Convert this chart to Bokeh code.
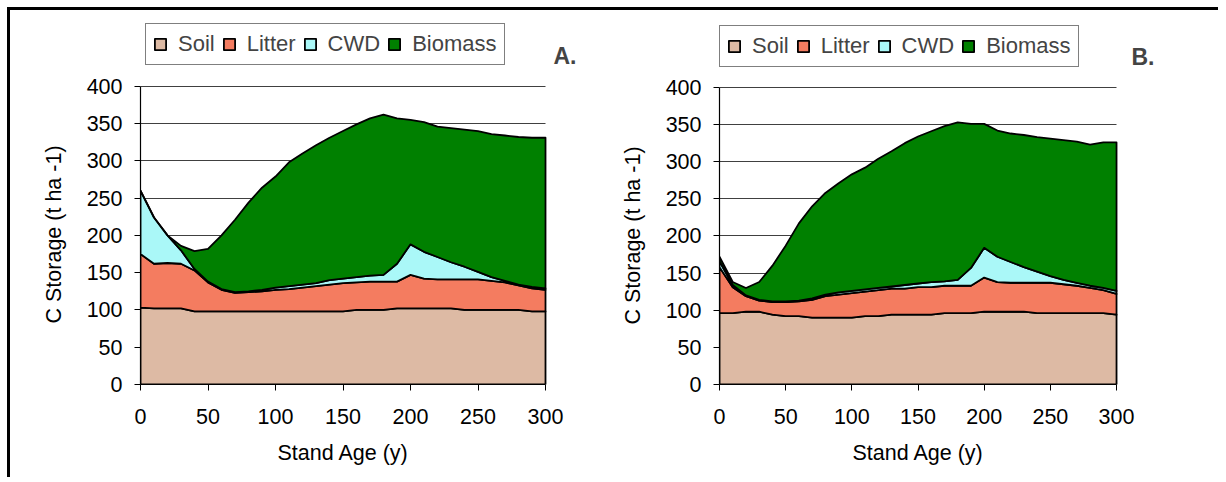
from bokeh.plotting import figure
from bokeh.models import Range1d, FixedTicker, Legend, LegendItem, Label, Title
from bokeh.layouts import row
from bokeh.embed import file_html
from bokeh.resources import INLINE
import numpy as np

# ---------------- data ----------------
age = list(range(0, 301, 10))

layers = ["Soil", "Litter", "CWD", "Biomass"]

soil_a = [103, 102, 102, 102, 98, 98, 98, 98, 98, 98, 98, 98, 98, 98, 98, 98,
          100, 100, 100, 102, 102, 102, 102, 102, 100, 100, 100, 100, 100, 98, 98]
litter_a = [72, 60, 61, 60, 55, 39, 29, 25, 26, 27, 29, 30, 32, 34, 36, 38,
            37, 38, 38, 36, 45, 40, 39, 39, 41, 41, 39, 37, 33, 31, 29]
cwd_a = [85, 62, 37, 18, 2, 1, 1, 1, 1, 2, 3, 4, 4, 4, 6, 6,
         7, 8, 9, 24, 41, 36, 30, 23, 17, 10, 5, 2, 1, 2, 2]
bio_a = [0, 0, 0, 6, 24, 44, 72, 97, 119, 137, 149, 166, 176, 185, 191, 198,
         205, 211, 215, 195, 167, 174, 175, 180, 184, 189, 192, 195, 198, 200, 202]

soil_b = [96, 96, 98, 98, 94, 92, 92, 90, 90, 90, 90, 92, 92, 94, 94, 94,
          94, 96, 96, 96, 98, 98, 98, 98, 96, 96, 96, 96, 96, 96, 94]
litter_b = [62, 35, 21, 15, 17, 19, 20, 24, 29, 31, 33, 33, 35, 35, 35, 37,
            37, 37, 37, 37, 46, 40, 39, 39, 41, 41, 39, 37, 34, 31, 28]
cwd_b = [8, 3, 1, 1, 1, 1, 1, 2, 2, 3, 3, 3, 3, 3, 5, 5,
         7, 6, 8, 24, 40, 34, 28, 21, 15, 9, 6, 4, 3, 3, 4]
bio_b = [6, 4, 10, 24, 48, 75, 104, 124, 137, 147, 157, 164, 174, 182, 191, 198,
         203, 209, 212, 194, 167, 170, 173, 178, 181, 185, 188, 190, 190, 196, 200]

x_ticks = [0, 50, 100, 150, 200, 250, 300]
y_ticks = [0, 50, 100, 150, 200, 250, 300, 350, 400]

x_title = "Stand Age (y)"
y_title = "C Storage (t ha -1)"

# ---------------- style ----------------
FONT = "Liberation Sans"
FS = "21.5px"
COLORS = ["#DDBAA4", "#F47C60", "#AAF8F8", "#008000"]


def make_panel(tag, series, width, height, bl, br, bt, bb, x_end, y_end,
               leg_loc, tag_loc, ytitle_off, xtitle_off):
    p = figure(width=width, height=height,
               x_range=Range1d(0, x_end), y_range=Range1d(0, y_end),
               output_backend="svg", toolbar_location=None,
               min_border_left=bl, min_border_right=br,
               min_border_top=bt, min_border_bottom=bb)
    p.outline_line_color = None
    p.background_fill_color = "white"
    p.border_fill_color = "white"

    x = np.array(age, dtype=float)
    bottom = np.zeros(len(age))
    renderers = []
    for vals, col in zip(series, COLORS):
        top = bottom + np.array(vals, dtype=float)
        xs = list(x) + list(x[::-1])
        ys = list(top) + list(bottom[::-1])
        r = p.patch(xs, ys, fill_color=col, line_color="black",
                    line_width=1.8, line_join="round")
        renderers.append(r)
        bottom = top

    # axes
    for ax in (p.xaxis[0], p.yaxis[0]):
        ax.axis_line_color = "black"
        ax.axis_line_width = 1.2
        ax.major_tick_line_color = "black"
        ax.major_tick_in = 0
        ax.major_tick_out = 6
        ax.minor_tick_line_color = None
        ax.major_label_text_font = FONT
        ax.major_label_text_font_size = FS
        ax.major_label_text_color = "black"
    p.xaxis.ticker = FixedTicker(ticks=x_ticks)
    p.yaxis.ticker = FixedTicker(ticks=y_ticks)
    p.xaxis.bounds = (0, 300)
    p.yaxis.bounds = (0, 400)
    p.xaxis.major_label_standoff = 18
    p.yaxis.major_label_standoff = 12

    # axis titles (positioned along the 0..300 / 0..400 part of the frame)
    p.add_layout(Title(text=y_title, align="left", offset=ytitle_off,
                       vertical_align="middle", standoff=33,
                       text_font=FONT, text_font_size=FS,
                       text_font_style="normal", text_color="black"), "left")
    p.add_layout(Title(text=x_title, align="left", offset=xtitle_off,
                       vertical_align="bottom", standoff=24,
                       text_font=FONT, text_font_size=FS,
                       text_font_style="normal", text_color="black"), "below")

    p.xgrid.grid_line_color = None
    p.ygrid.grid_line_color = "#404040"
    p.ygrid.grid_line_width = 1
    p.ygrid.ticker = FixedTicker(ticks=y_ticks)
    p.ygrid.cross_bounds = (0, 300)

    items = [LegendItem(label=name, renderers=[r]) for name, r in zip(layers, renderers)]
    leg = Legend(items=items, orientation="horizontal", location=leg_loc,
                 margin=0, padding=7, spacing=7, glyph_width=14, glyph_height=14,
                 label_standoff=11, border_line_color="black", border_line_width=1,
                 label_text_font=FONT, label_text_font_size="22px",
                 background_fill_color="white", background_fill_alpha=1)
    p.add_layout(leg)

    p.add_layout(Label(x=tag_loc[0], y=tag_loc[1], x_units="screen", y_units="screen",
                       text=tag, text_font=FONT, text_font_size="23px",
                       text_font_style="bold", text_baseline="alphabetic"))
    return p


pA = make_panel("A.", [soil_a, litter_a, cwd_a, bio_a], 592, 467,
                130, 12, 12, 92, 333.33, 485.6, (5, 319), (413, 329), 61, 137)
pB = make_panel("B.", [soil_b, litter_b, cwd_b, bio_b], 616, 467,
                117, 53, 12, 93, 337.0, 487.5, (0, 317), (412, 328), 60, 133)

layout = row(pA, pB, styles={"margin-left": "7px", "margin-top": "7px",
                             "border-left": "3px solid black",
                             "border-top": "3px solid black"})

open("out.html", "w").write(file_html(layout, INLINE))
